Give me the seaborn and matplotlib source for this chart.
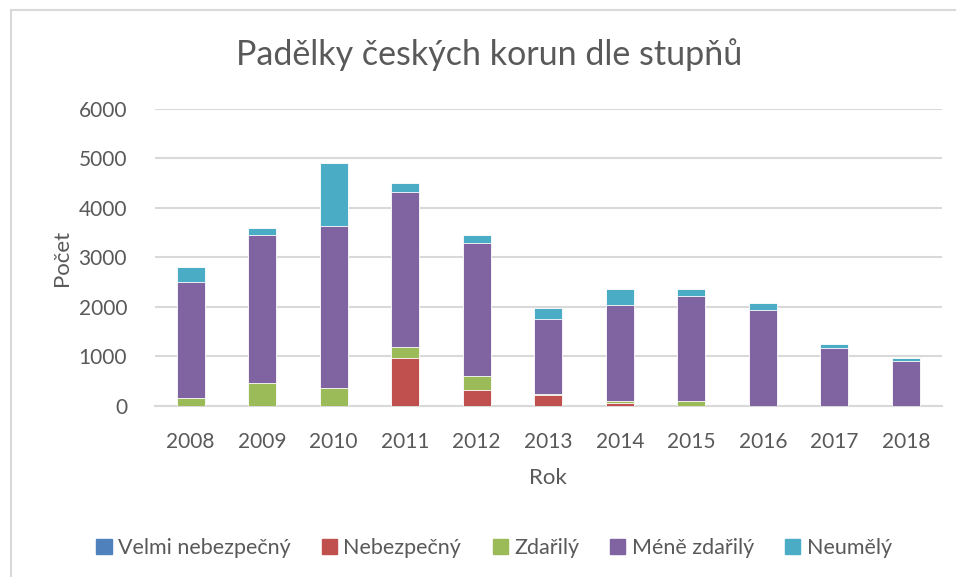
import numpy as np
import pandas as pd
import matplotlib
matplotlib.use('Agg')
import matplotlib.pyplot as plt
import matplotlib.patches as mpatches
import seaborn as sns

years = ['2008', '2009', '2010', '2011', '2012', '2013', '2014', '2015', '2016', '2017', '2018']
velmi_nebezpecny = [0, 0, 0, 0, 0, 0, 0, 0, 0, 0, 0]
nebezpecny = [0, 0, 0, 960, 315, 215, 70, 5, 0, 0, 0]
zdarily = [170, 470, 365, 240, 295, 35, 35, 90, 0, 0, 0]
mene_zdarily = [2330, 2975, 3265, 3115, 2675, 1510, 1935, 2120, 1940, 1165, 900]
neumely = [310, 145, 1270, 185, 170, 220, 330, 140, 150, 95, 75]

series = ['Velmi nebezpečný', 'Nebezpečný', 'Zdařilý', 'Méně zdařilý', 'Neumělý']
colors = ['#4F81BD', '#C0504D', '#9BBB59', '#8064A2', '#4BACC6']

sns.set_theme(style='white')
plt.rcParams['font.family'] = ['Lato', 'DejaVu Sans']
text_col = '#595959'

df = pd.DataFrame({'Rok': years,
                   series[0]: velmi_nebezpecny,
                   series[1]: nebezpecny,
                   series[2]: zdarily,
                   series[3]: mene_zdarily,
                   series[4]: neumely})
cum = df[series].cumsum(axis=1)

fig = plt.figure(figsize=(9.56, 5.77), dpi=100)
ax = fig.add_axes([0.162, 0.2964, 0.823, 0.5147])

# stacked bars: draw cumulative totals from the top layer down
for name, col in reversed(list(zip(series, colors))):
    sns.barplot(x=df['Rok'], y=cum[name], color=col, saturation=1, width=0.39,
                edgecolor='white', linewidth=0.6, ax=ax, zorder=3)

ax.set_ylim(0, 6000)
ax.set_xlim(-0.5, 10.5)
ax.set_yticks(range(0, 6001, 1000))
ax.yaxis.grid(True, color='#D9D9D9', linewidth=1.5, zorder=0)
ax.set_axisbelow(True)
for s in ['top', 'right', 'left']:
    ax.spines[s].set_visible(False)
ax.spines['bottom'].set_color('#D9D9D9')
ax.spines['bottom'].set_linewidth(1.5)
ax.tick_params(axis='both', length=0, labelsize=15, labelcolor=text_col)
ax.tick_params(axis='y', pad=20)
ax.tick_params(axis='x', pad=19)
ax.set_xlabel('Rok', fontsize=16, color=text_col, labelpad=11)
ax.set_ylabel('Počet', fontsize=16, color=text_col, labelpad=5)

fig.text(0.512, 0.905, 'Padělky českých korun dle stupňů', ha='center', va='center',
         fontsize=24.5, color=text_col)

handles = [mpatches.Patch(color=c, label=n) for n, c in zip(series, colors)]
fig.legend(handles=handles, loc='center', bbox_to_anchor=(0.517, 0.05), ncol=5,
           frameon=False, fontsize=15.5, labelcolor=text_col, handlelength=0.7,
           handleheight=0.7, handletextpad=0.3, columnspacing=1.45)

# chart border
fig.add_artist(plt.Line2D([11 / 956, 11 / 956], [0, 1 - 10 / 577], color='#D9D9D9', linewidth=1.5,
                          transform=fig.transFigure))
fig.add_artist(plt.Line2D([11 / 956, 1], [1 - 10 / 577, 1 - 10 / 577], color='#D9D9D9', linewidth=1.5,
                          transform=fig.transFigure))

fig.savefig('out.png', dpi=100)
